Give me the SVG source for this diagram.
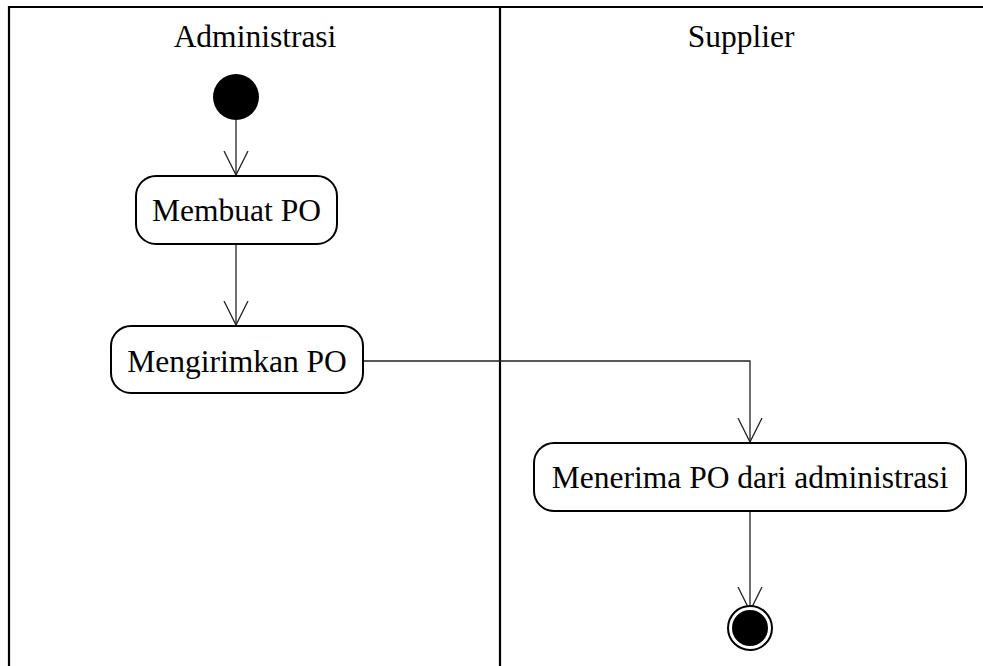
<svg xmlns="http://www.w3.org/2000/svg" width="983" height="666" viewBox="0 0 983 666">
<style>
.lane{stroke:#000;stroke-width:2.2;fill:none}
.box{fill:#fff;stroke:#000;stroke-width:2}
.t{font-family:"Liberation Serif","Times New Roman",serif;font-size:31.5px;fill:#000;text-anchor:middle}
.c{stroke:#222;stroke-width:1.3;fill:none}
</style>
<defs>
<marker id="arr" markerUnits="userSpaceOnUse" markerWidth="30" markerHeight="30" refX="24" refY="13" orient="auto">
<path d="M0,1 L24,13 L0,25" fill="none" stroke="#222" stroke-width="1.3"/>
</marker>
</defs>
<g id="lanes">
<path class="lane" d="M9,666 V7 H983"/>
<line class="lane" x1="500" y1="7" x2="500" y2="666"/>
<text class="t" x="255" y="47">Administrasi</text>
<text class="t" x="741" y="47">Supplier</text>
</g>
<g id="connectors">
<path class="c" d="M236,120 V175" marker-end="url(#arr)"/>
<path class="c" d="M236,244 V325" marker-end="url(#arr)"/>
<path class="c" d="M363,361 H750 V442" marker-end="url(#arr)"/>
<path class="c" d="M750,511 V611" marker-end="url(#arr)"/>
</g>
<g id="start"><circle cx="236" cy="97" r="23" fill="#000"/></g>
<g id="membuat"><rect class="box" x="136" y="176" width="201" height="68" rx="20"/><text class="t" x="236.5" y="221">Membuat PO</text></g>
<g id="mengirimkan"><rect class="box" x="111" y="326" width="252" height="67" rx="20"/><text class="t" x="237" y="372">Mengirimkan PO</text></g>
<g id="menerima"><rect class="box" x="534" y="443" width="432" height="68" rx="20"/><text class="t" x="750" y="488">Menerima PO dari administrasi</text></g>
<g id="end"><circle cx="750" cy="628" r="22" fill="#fff" stroke="#000" stroke-width="2"/><circle cx="750" cy="628" r="18" fill="#000"/></g>
</svg>
